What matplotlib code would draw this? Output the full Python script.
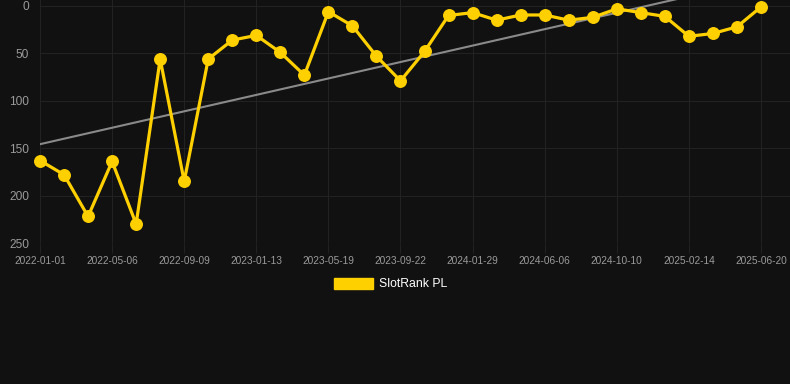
import matplotlib

matplotlib.use("Agg")

import matplotlib.pyplot as plt
import numpy as np
from matplotlib.patches import Patch

# rang journalier (plus petit = meilleur), un point par relevé
rangs = [163, 178, 222, 164, 230, 56, 185, 56, 36, 31, 49, 73, 6, 21, 53, 79,
         48, 10, 7, 15, 9.5, 9.5, 15, 12, 3, 7, 11, 32, 29, 22, 1]
etiquettes_dates = ["2022-01-01", "2022-05-06", "2022-09-09", "2023-01-13",
                    "2023-05-19", "2023-09-22", "2024-01-29", "2024-06-06",
                    "2024-10-10", "2025-02-14", "2025-06-20"]
ticks_y = [0, 50, 100, 150, 200, 250]
nom_serie = "SlotRank PL"

fond = "#111111"
jaune = "#FFD000"
gris_texte = "#9a9a9a"
gris_grille = "#222222"

plt.rcParams["font.family"] = ["Liberation Sans", "DejaVu Sans"]

fig = plt.figure(figsize=(7.9, 3.84), dpi=100, facecolor=fond)
ax = fig.add_axes([40 / 790, 1 - 243 / 384, 750 / 790, 243 / 384])
ax.set_facecolor(fond)

x = np.arange(len(rangs))
y = np.array(rangs, dtype=float)

# droite de tendance (régression linéaire)
pente, origine = np.polyfit(x, y, 1)
ax.plot(x, pente * x + origine, color="#8a8a8a", lw=1.5, zorder=2)

ax.plot(x, y, color=jaune, lw=2.3, marker="o", markersize=8.3,
        markerfacecolor=jaune, markeredgecolor=jaune, zorder=3, clip_on=False)

ax.set_xlim(0, 30 + 29 / 24.03)
ax.set_ylim(250, -6.3)

ax.set_xticks(x[::3])
ax.set_xticklabels(etiquettes_dates)
ax.set_yticks(ticks_y)

ax.grid(True, color=gris_grille, lw=0.8)
ax.tick_params(axis="x", colors=gris_grille, length=7, width=0.8,
               labelcolor=gris_texte, labelsize=7.3, pad=2)
ax.tick_params(axis="y", length=0, labelcolor=gris_texte, labelsize=8.6, pad=8)
for s in ax.spines.values():
    s.set_visible(False)

fig.legend(handles=[Patch(facecolor=jaune, edgecolor=jaune, label=nom_serie)],
           loc="center", bbox_to_anchor=(391 / 790, 1 - 284 / 384), frameon=False,
           fontsize=8.8, labelcolor="white", handlelength=3.2, handleheight=1.0,
           handletextpad=0.5)

fig.savefig("out.png", dpi=100, facecolor=fond)
